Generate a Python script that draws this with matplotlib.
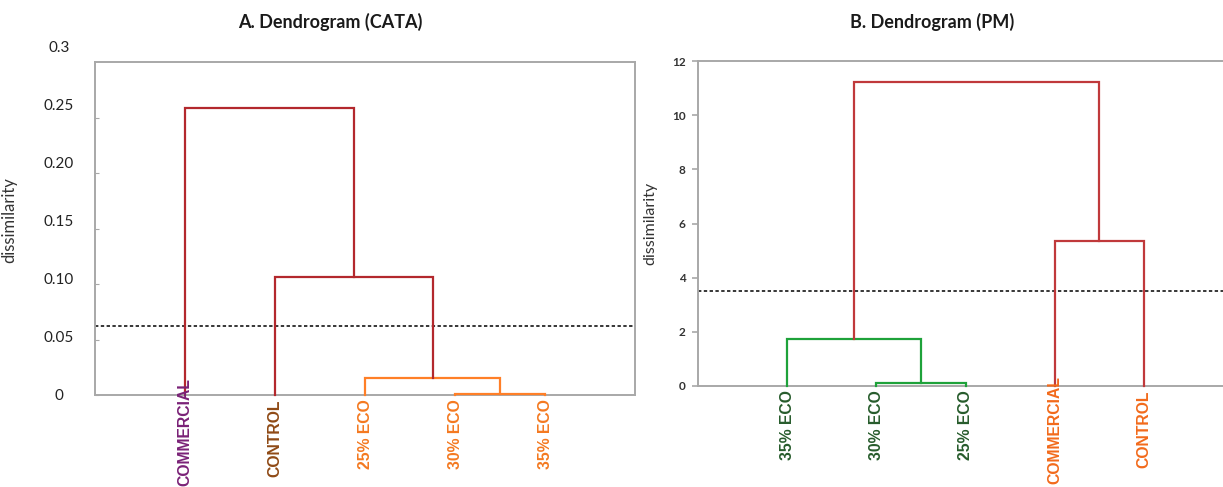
import numpy as np
import matplotlib
matplotlib.use('Agg')
import matplotlib.pyplot as plt

# ---- data ----
# A. CATA
cata_leaves = ['COMMERCIAL', 'CONTROL', '25% ECO', '30% ECO', '35% ECO']
cata_leaf_colors = ['#7a2277', '#8f4a16', '#f47920', '#f47920', '#f47920']
# merges: (child a, child b, height); new cluster ids start at len(leaves)
cata_merges = [(3, 4, 0.001), (2, 5, 0.015), (1, 6, 0.106), (0, 7, 0.259)]
cata_link_colors = ['#ff7f27', '#ff7f27', '#b3282d', '#b3282d']
cata_cut = 0.062
cata_yticks = [0, 0.05, 0.10, 0.15, 0.20, 0.25, 0.3]
cata_yticklabels = ['0', '0.05', '0.10', '0.15', '0.20', '0.25', '0.3']

# B. PM
pm_leaves = ['35% ECO', '30% ECO', '25% ECO', 'COMMERCIAL', 'CONTROL']
pm_leaf_colors = ['#275c2c', '#275c2c', '#275c2c', '#f26a1b', '#f26a1b']
pm_merges = [(1, 2, 0.12), (0, 5, 1.72), (3, 4, 5.35), (6, 7, 11.22)]
pm_link_colors = ['#1ea23a', '#1ea23a', '#c0393b', '#c0393b']
pm_cut = 3.5
pm_yticks = [0, 2, 4, 6, 8, 10, 12]

LEAF_FONT = ['Liberation Sans Narrow', 'Liberation Sans', 'DejaVu Sans']
TXT_FONT = ['Lato', 'DejaVu Sans']
SPINE = '#a8a8a8'

W, H = 1223, 487
fig = plt.figure(figsize=(W / 100, H / 100), dpi=100)


def px_axes(x0, x1, ytop, ybot):
    return fig.add_axes([x0 / W, 1 - ybot / H, (x1 - x0) / W, (ybot - ytop) / H])


def draw_dendro(ax, leaves, merges, link_colors):
    # leaf positions 1..n, cluster heights start at 0
    xs = {i: i + 1.0 for i in range(len(leaves))}
    hs = {i: 0.0 for i in range(len(leaves))}
    nid = len(leaves)
    for (a, b, h), c in zip(merges, link_colors):
        ax.plot([xs[a], xs[a], xs[b], xs[b]], [hs[a], h, h, hs[b]],
                color=c, lw=1.6, solid_joinstyle='miter', zorder=3, clip_on=False)
        xs[nid] = (xs[a] + xs[b]) / 2
        hs[nid] = h
        nid += 1


def leaf_labels(ax, leaves, colors, lifts):
    for i, (name, c) in enumerate(zip(leaves, colors)):
        ax.annotate(name, xy=(i + 1, 0), xycoords=('data', 'axes fraction'),
                    xytext=(0, -3 + lifts.get(name, 0)), textcoords='offset points',
                    rotation=90, ha='center', va='top', color=c,
                    fontsize=11.3, fontweight='bold', family=LEAF_FONT,
                    annotation_clip=False, zorder=4)


def style_frame(ax):
    for s in ax.spines.values():
        s.set_color(SPINE)
        s.set_linewidth(1.4)
    ax.set_xticks([])


# ---- left panel ----
ax1 = px_axes(95, 635, 62, 395)
ax1.set_xlim(0, 6)
ax1.set_ylim(0, 0.3)
style_frame(ax1)
draw_dendro(ax1, cata_leaves, cata_merges, cata_link_colors)
ax1.axhline(cata_cut, color='black', lw=1.1, ls=(0, (2.2, 1.6)), zorder=2)
ax1.set_yticks(cata_yticks[:-1])
ax1.tick_params(axis='y', direction='in', length=3, width=0.8, color=SPINE,
                labelleft=False)
leaf_labels(ax1, cata_leaves, cata_leaf_colors, {'COMMERCIAL': 15})
ax1.set_ylabel('dissimilarity', fontsize=12, family=TXT_FONT, color='#333333')
ax1.yaxis.set_label_coords(-0.144, 0.525)

# tick labels sit on their own slightly taller scale in the original
ax1l = px_axes(95, 96, 47, 395)
ax1l.set_ylim(0, 0.3)
ax1l.set_xticks([])
ax1l.set_yticks(cata_yticks)
ax1l.set_yticklabels(cata_yticklabels, ha='center', family=TXT_FONT,
                     fontsize=11, color='#222222')
ax1l.tick_params(axis='y', length=0, pad=26)
for s in ax1l.spines.values():
    s.set_visible(False)
ax1l.patch.set_alpha(0)

# ---- right panel ----
ax2 = px_axes(698, 1233, 61, 386)
ax2.set_xlim(0, 6)
ax2.set_ylim(0, 12)
style_frame(ax2)
draw_dendro(ax2, pm_leaves, pm_merges, pm_link_colors)
ax2.axhline(pm_cut, color='black', lw=1.1, ls=(0, (2.2, 1.6)), zorder=2)
ax2.set_yticks(pm_yticks)
ax2.tick_params(axis='y', direction='out', length=4, width=1.2, color=SPINE,
                pad=5, labelsize=8.5, labelcolor='#333333')
for t in ax2.get_yticklabels():
    t.set_family(TXT_FONT)
    t.set_fontweight('bold')
leaf_labels(ax2, pm_leaves, pm_leaf_colors, {'COMMERCIAL': 10})
ax2.set_ylabel('dissimilarity', fontsize=11.5, family=TXT_FONT, color='#333333')
ax2.yaxis.set_label_coords(-0.075, 0.5)

# ---- titles ----
fig.text(330 / W, 1 - 22 / H, 'A. Dendrogram (CATA)', ha='center', va='center',
         fontsize=13, fontweight='bold', family=TXT_FONT, color='#1a1a1a')
fig.text(932 / W, 1 - 22 / H, 'B. Dendrogram (PM)', ha='center', va='center',
         fontsize=13, fontweight='bold', family=TXT_FONT, color='#1a1a1a')

fig.savefig('out.png', dpi=100)
